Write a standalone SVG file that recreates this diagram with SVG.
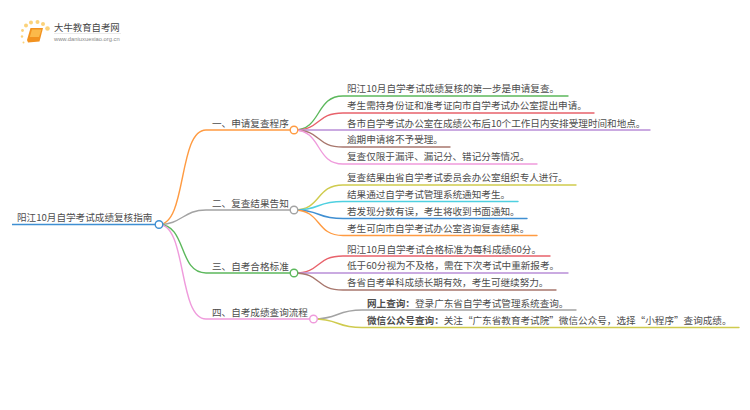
<svg xmlns="http://www.w3.org/2000/svg" width="750" height="410" viewBox="0 0 750 410">
<style>
text{font-family:"Noto Sans CJK SC","Noto Sans",sans-serif;font-size:9.6px;fill:#4d4d4d}
.c{fill:none;stroke-width:1.4;stroke-linecap:round}
.m{fill:none;stroke-width:1.6}
.n{fill:#fff;stroke-width:1.4}
.b{font-weight:700}
</style>
<rect width="750" height="410" fill="#fff"/>
<g id="logo">
<g fill="#fbd27a"><circle cx="26" cy="25.500" r="2"/><circle cx="31" cy="22.500" r="2"/><circle cx="37.500" cy="22" r="2"/><circle cx="43" cy="24" r="2"/><circle cx="47.500" cy="28.500" r="2.300"/><circle cx="22.500" cy="30.500" r="1.400"/><circle cx="22" cy="36.500" r="1.200"/><circle cx="23.500" cy="42.500" r="1"/></g>
<path d="M30.500 28H43L39.500 41.500 28 42.500 27 40Z" fill="#f2921f"/><path d="M32 29.500H41.500L39 37H29.800Z" fill="#fbb94a"/>
<text x="54" y="30.500" style="font-size:9.400px;fill:#444">大牛教育自考网</text>
<path d="M54 33.500H121" stroke="#ddd" stroke-width="0.600"/>
<text x="54" y="41" style="font-size:5.800px;fill:#888;font-family:'Liberation Sans',sans-serif">www.daniuxuexiao.org.cn</text>
</g>
<g id="connectors">
<path class="m" stroke="#3f8fd2" d="M12 224.500H159"/>
<path class="c" stroke="#ff9b42" d="M159 224.500C187 224.500 178 130 206 130H294"/>
<path class="c" stroke="#a3a3a3" d="M159 224.500C182 224.500 183 210 206 210H294"/>
<path class="c" stroke="#5cb85c" d="M159 224.500C187 224.500 178 273 206 273H294"/>
<path class="c" stroke="#ef9bdc" d="M159 224.500C187 224.500 178 319 206 319H313"/>
<path class="c" stroke="#5cb85c" d="M294 130C322 130 315 96 343 96H568"/>
<path class="c" stroke="#e8626b" d="M294 130C322 130 315 113 343 113H594"/>
<path class="c" stroke="#b98fd8" d="M294 130H650"/>
<path class="c" stroke="#a8776d" d="M294 130C322 130 315 147 343 147H450"/>
<path class="c" stroke="#ef9bdc" d="M294 130C322 130 315 164 343 164H537"/>
<path class="c" stroke="#cfcb4e" d="M294 210C322 210 315 185 343 185H576"/>
<path class="c" stroke="#4fd0e0" d="M294 210C322 210 315 201.500 343 201.500H518"/>
<path class="c" stroke="#3f8fd2" d="M294 210C322 210 315 218.500 343 218.500H527"/>
<path class="c" stroke="#ff9b42" d="M294 210C322 210 315 235.500 343 235.500H537"/>
<path class="c" stroke="#e8626b" d="M294 273C322 273 315 256 343 256H550"/>
<path class="c" stroke="#b98fd8" d="M294 273H568"/>
<path class="c" stroke="#a8776d" d="M294 273C322 273 315 290 343 290H556"/>
<path class="c" stroke="#a3a3a3" d="M313 319C340 319 335 310 362 310H576"/>
<path class="c" stroke="#cfcb4e" d="M313 319C340 319 335 327.500 362 327.500H739"/>
</g>
<g id="root"><text x="17" y="221">阳江10月自学考试成绩复核指南</text><circle class="n" stroke="#3f8fd2" cx="159" cy="224.500" r="3.800"/></g>
<g id="n1"><text x="212" y="127">一、申请复查程序</text><circle class="n" stroke="#ff9b42" cx="294" cy="130" r="3.800"/></g>
<g id="n2"><text x="212" y="207">二、复查结果告知</text><circle class="n" stroke="#a3a3a3" cx="294" cy="210" r="3.800"/></g>
<g id="n3"><text x="212" y="270">三、自考合格标准</text><circle class="n" stroke="#5cb85c" cx="294" cy="273" r="3.800"/></g>
<g id="n4"><text x="212" y="316">四、自考成绩查询流程</text><circle class="n" stroke="#ef9bdc" cx="313.500" cy="319" r="3.800"/></g>
<g id="l11"><text x="347" y="92">阳江10月自学考试成绩复核的第一步是申请复查。</text></g>
<g id="l12"><text x="347" y="109">考生需持身份证和准考证向市自学考试办公室提出申请。</text></g>
<g id="l13"><text x="347" y="127">各市自学考试办公室在成绩公布后10个工作日内安排受理时间和地点。</text></g>
<g id="l14"><text x="347" y="143">逾期申请将不予受理。</text></g>
<g id="l15"><text x="347" y="160">复查仅限于漏评、漏记分、错记分等情况。</text></g>
<g id="l21"><text x="347" y="181">复查结果由省自学考试委员会办公室组织专人进行。</text></g>
<g id="l22"><text x="347" y="198">结果通过自学考试管理系统通知考生。</text></g>
<g id="l23"><text x="347" y="215">若发现分数有误，考生将收到书面通知。</text></g>
<g id="l24"><text x="347" y="232">考生可向市自学考试办公室咨询复查结果。</text></g>
<g id="l31"><text x="347" y="253">阳江10月自学考试合格标准为每科成绩60分。</text></g>
<g id="l32"><text x="347" y="269">低于60分视为不及格，需在下次考试中重新报考。</text></g>
<g id="l33"><text x="347" y="286">各省自考单科成绩长期有效，考生可继续努力。</text></g>
<g id="l41"><text x="367" y="307"><tspan class="b">网上查询：</tspan>登录广东省自学考试管理系统查询。</text></g>
<g id="l42"><text x="367" y="324"><tspan class="b">微信公众号查询：</tspan>关注“广东省教育考试院”微信公众号，选择“小程序”查询成绩。</text></g>
</svg>
